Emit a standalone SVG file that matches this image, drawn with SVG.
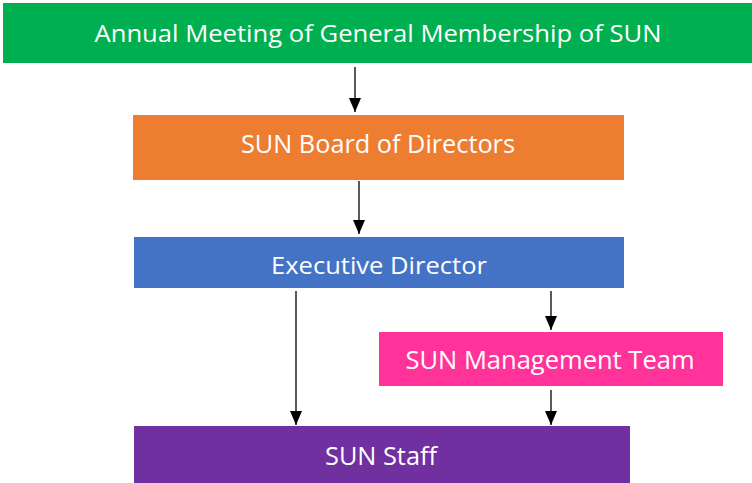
<svg xmlns="http://www.w3.org/2000/svg" width="752" height="483" viewBox="0 0 752 483">
<style>
.lbl{font-family:"Open Sans","Liberation Sans",sans-serif;fill:#fff;text-anchor:middle;}
.conn{stroke:#000;stroke-width:1.3;fill:none;marker-end:url(#ah);}
</style>
<defs>
<marker id="ah" viewBox="0 0 14 12" refX="14" refY="6" markerWidth="14" markerHeight="12" markerUnits="userSpaceOnUse" orient="auto">
<path d="M0,0 L14,6 L0,12 Z" fill="#000"/>
</marker>
</defs>
<rect width="752" height="483" fill="#fff"/>
<g id="n-annual">
<rect x="3" y="3" width="749" height="60" fill="#00B050"/>
<text class="lbl" x="378" y="42" font-size="24" textLength="567" lengthAdjust="spacingAndGlyphs">Annual Meeting of General Membership of SUN</text>
</g>
<g id="n-board">
<rect x="133" y="115" width="491" height="65" fill="#ED7D31"/>
<text class="lbl" x="378" y="153" font-size="26" textLength="274" lengthAdjust="spacingAndGlyphs">SUN Board of Directors</text>
</g>
<g id="n-exec">
<rect x="134" y="237" width="490" height="51" fill="#4472C4"/>
<text class="lbl" x="379" y="274" font-size="24" textLength="216" lengthAdjust="spacingAndGlyphs">Executive Director</text>
</g>
<g id="n-mgmt">
<rect x="379" y="332" width="344" height="54" fill="#FF3399"/>
<text class="lbl" x="550" y="369" font-size="25" textLength="289" lengthAdjust="spacingAndGlyphs">SUN Management Team</text>
</g>
<g id="n-staff">
<rect x="134" y="426" width="496" height="57" fill="#7030A0"/>
<text class="lbl" x="381" y="465" font-size="25" textLength="112" lengthAdjust="spacingAndGlyphs">SUN Staff</text>
</g>
<g id="connectors">
<line class="conn" x1="355" y1="67" x2="355" y2="112"/>
<line class="conn" x1="359" y1="181" x2="359" y2="234"/>
<line class="conn" x1="296" y1="291" x2="296" y2="425"/>
<line class="conn" x1="551" y1="291" x2="551" y2="330"/>
<line class="conn" x1="551" y1="390" x2="551" y2="425"/>
</g>
</svg>
